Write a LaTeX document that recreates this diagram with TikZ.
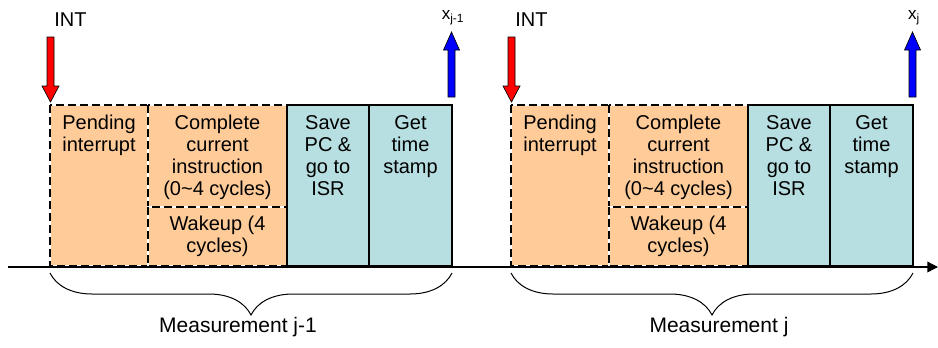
\documentclass[tikz,border=0pt]{standalone}
\usepackage{fontspec}
\setmainfont{Liberation Sans}
\usepackage{xcolor}
\usepackage{tikz}
\usetikzlibrary{arrows.meta,decorations.pathreplacing}

\definecolor{waitfill}{RGB}{255,204,153}
\definecolor{isrfill}{RGB}{183,222,224}

\begin{document}
\begin{tikzpicture}[
  x=0.75pt, y=-0.75pt,
  waitbox/.style={fill=waitfill, draw=white, line width=1pt, postaction={draw=black, dash pattern=on 6pt off 3pt}},
  isrbox/.style={fill=isrfill, draw=black, line width=1pt},
  boxtext/.style={anchor=north, align=center, inner sep=0pt, font=\fontsize{15}{16.5}\selectfont},
  intlabel/.style={inner sep=0pt, font=\fontsize{15}{18}\selectfont},
  xlabel/.style={inner sep=0pt, font=\fontsize{12.75}{15}\selectfont},
  measlabel/.style={inner sep=0pt, font=\fontsize{15.75}{19}\selectfont},
  fatarrow/.style={draw=black, line width=0.5pt, line join=miter},
  timeline/.style={-{Triangle[length=8pt,width=8pt]}, line width=1pt},
  measbrace/.style={decorate, decoration={brace, mirror, amplitude=31.5pt}, line width=0.75pt}
]
  \useasboundingbox (0,0) rectangle (938,347);

  % time axis ends
  \coordinate (t0) at (8,267);
  \coordinate (t1) at (938,267);

  \foreach \dx/\i/\sub/\mx in {0/1/{j-1}/238, 461/2/j/258} {
    \begin{scope}[shift={(\dx,0)}]
      % waiting part (dashed) and ISR part
      \draw[waitbox] (50,105) rectangle (148,266);
      \draw[waitbox] (148,105) rectangle (287,207);
      \draw[waitbox] (148,207) rectangle (287,266);
      \draw[isrbox] (287,105) rectangle (369,266);
      \draw[isrbox] (369,105) rectangle (452,266);

      \node[boxtext] (pend\i) at (99,115) {Pending\\interrupt};
      \node[boxtext] (instr\i) at (217.5,115) {Complete\\current\\instruction\\(0\textasciitilde4 cycles)};
      \node[boxtext] (wake\i) at (217.5,216) {Wakeup (4\\cycles)};
      \node[boxtext] (isr\i) at (328,115) {Save\\PC \&\\go to\\ISR};
      \node[boxtext] (stamp\i) at (410.5,115) {Get\\time\\stamp};

      % interrupt arrow
      \node[intlabel, anchor=base west] (int\i) at (54,26) {INT};
      \draw[fatarrow, fill=red] (50.5,102) -- ++(8.5,-16) -- ++(-5,0) -- ++(0,-49)
        -- ++(-7,0) -- ++(0,49) -- ++(-5,0) -- cycle;

      % sample arrow
      \node[xlabel, anchor=base] (x\i) at (453,19) {x\textsubscript{\sub}};
      \draw[fatarrow, fill=blue] (451.5,32) -- ++(8,18) -- ++(-4.5,0) -- ++(0,47)
        -- ++(-7,0) -- ++(0,-47) -- ++(-4.5,0) -- cycle;

      % measurement span
      \draw[measbrace] (50,273) -- (452,273);
      \node[measlabel, anchor=base] (meas\i) at (\mx,332) {Measurement \sub};
    \end{scope}
  }

  \draw[timeline] (t0) -- (t1);
\end{tikzpicture}
\end{document}
